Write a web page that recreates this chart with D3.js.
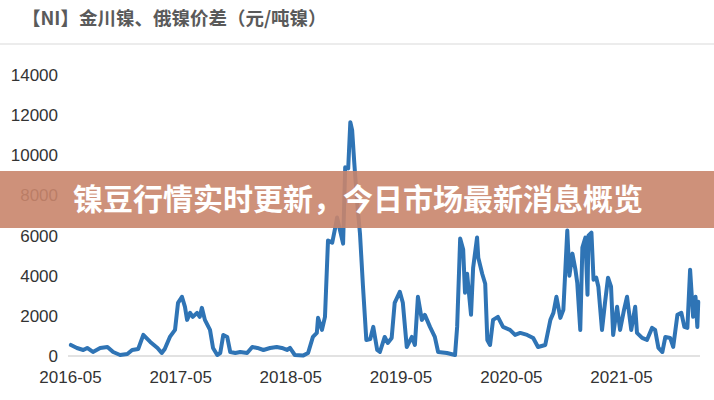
<!DOCTYPE html>
<html>
<head>
<meta charset="utf-8">
<script src="https://cdn.jsdelivr.net/npm/d3@7/dist/d3.min.js"></script>
<style>
  html, body { margin: 0; padding: 0; background: #ffffff; }
  svg { display: block; }
</style>
</head>
<body>
<svg id="chart" width="714" height="400"></svg>
<script>
// ---- data ----
const titleText = "【NI】金川镍、俄镍价差（元/吨镍）";
const bannerText = "镍豆行情实时更新，今日市场最新消息概览";
const yTicks = [0, 2000, 4000, 6000, 8000, 10000, 12000, 14000];
const xTickLabels = ["2016-05", "2017-05", "2018-05", "2019-05", "2020-05", "2021-05"];
const dates = [
  "2016-05-04","2016-05-24","2016-06-14","2016-06-27","2016-07-16","2016-08-09","2016-09-02","2016-09-21",
  "2016-10-14","2016-11-07","2016-11-23","2016-12-13","2016-12-30","2017-01-22","2017-02-15","2017-03-01",
  "2017-03-11","2017-03-28","2017-04-14","2017-04-24","2017-05-07","2017-05-17","2017-05-24","2017-06-03",
  "2017-06-12","2017-06-26","2017-07-05","2017-07-12","2017-07-22","2017-08-08","2017-08-18","2017-09-01",
  "2017-09-11","2017-09-21","2017-10-04","2017-10-14","2017-10-31","2017-11-16","2017-12-09","2017-12-26",
  "2018-01-12","2018-02-01","2018-02-23","2018-03-17","2018-04-03","2018-04-20","2018-04-30","2018-05-16",
  "2018-06-12","2018-06-29","2018-07-15","2018-07-28","2018-08-01","2018-08-14","2018-08-24","2018-09-03",
  "2018-09-17","2018-09-27","2018-10-03","2018-10-13","2018-10-23","2018-10-30","2018-11-09","2018-11-16",
  "2018-11-22","2018-11-29","2018-12-08","2018-12-18","2018-12-28","2019-01-08","2019-01-21","2019-01-31",
  "2019-02-13","2019-02-22","2019-03-10","2019-03-20","2019-04-02","2019-04-12","2019-04-29","2019-05-09",
  "2019-05-22","2019-06-08","2019-06-18","2019-06-28","2019-07-11","2019-07-21","2019-08-07","2019-08-23",
  "2019-09-03","2019-10-02","2019-10-29","2019-11-05","2019-11-15","2019-11-25","2019-12-01","2019-12-08",
  "2019-12-21","2019-12-28","2020-01-10","2020-01-14","2020-01-27","2020-02-06","2020-02-13","2020-02-22",
  "2020-03-03","2020-03-19","2020-04-05","2020-04-28","2020-05-15","2020-06-01","2020-06-24","2020-07-14",
  "2020-07-30","2020-08-23","2020-09-09","2020-09-19","2020-09-29","2020-10-12","2020-10-22","2020-11-04",
  "2020-11-11","2020-11-21","2020-12-01","2020-12-07","2020-12-17","2020-12-24","2021-01-03","2021-01-10",
  "2021-01-13","2021-01-23","2021-01-30","2021-02-08","2021-02-15","2021-02-27","2021-03-09","2021-03-19",
  "2021-03-29","2021-04-05","2021-04-18","2021-04-28","2021-05-11","2021-05-21","2021-06-04","2021-06-17",
  "2021-06-23","2021-07-10","2021-07-26","2021-08-12","2021-08-22","2021-09-02","2021-09-15","2021-09-25",
  "2021-10-11","2021-10-21","2021-11-04","2021-11-17","2021-11-27","2021-12-07","2021-12-16","2021-12-26",
  "2022-01-03","2022-01-09","2022-01-12"
];
const values = [
  550, 400, 300, 400, 200, 400, 450, 200,
  50, 100, 300, 350, 1050, 700, 400, 150,
  350, 950, 1300, 2650, 2950, 2450, 1800, 2150,
  1950, 2150, 1950, 2400, 1800, 1300, 400, 50,
  150, 1050, 950, 200, 150, 200, 150, 450,
  400, 300, 400, 450, 400, 300, 400, 50,
  20, 150, 950, 1150, 1900, 1300, 1950, 5750,
  5650, 6400, 6900, 6250, 5600, 9400, 9350, 11650,
  11250, 9650, 7750, 6100, 3450, 800, 850, 1450,
  300, 200, 950, 650, 900, 2650, 3200, 2650,
  450, 950, 550, 2950, 1800, 2050, 1450, 950,
  200, 150, 50, 1450, 5850, 5300, 3150, 4100,
  2050, 4400, 5900, 4900, 4100, 3600, 800, 550,
  1800, 1950, 1450, 1300, 1050, 1150, 1050, 900,
  450, 550, 1800, 2150, 2950, 1900, 2300, 6250,
  4000, 5100, 4300, 3650, 1300, 5400, 5900, 3050,
  6000, 6150, 3800, 3900, 3450, 1300, 2650, 3900,
  3450, 1050, 2450, 1300, 2300, 2950, 1300, 2450,
  1150, 900, 800, 1400, 1300, 400, 200, 950,
  900, 450, 2050, 2150, 1450, 1400, 4300, 1950,
  2950, 1450, 2700
];

// ---- drawing ----
const svg = d3.select("#chart");
const parse = d3.timeParse("%Y-%m-%d");
const parseMonth = d3.timeParse("%Y-%m");
const data = dates.map((d, i) => ({ date: parse(d), value: values[i] }));

const x = d3.scaleTime()
  .domain([parseMonth("2016-05"), parseMonth("2021-05")])
  .range([70, 621]);
const y = d3.scaleLinear().domain([0, 14000]).range([356, 75]);

// title
svg.append("text")
  .attr("x", 22).attr("y", 25)
  .attr("font-family", "'Noto Sans CJK SC', sans-serif")
  .attr("font-size", 18.5).attr("font-weight", "bold")
  .attr("fill", "#5a5a5a")
  .text(titleText);

svg.append("line")
  .attr("x1", 0).attr("x2", 714).attr("y1", 44).attr("y2", 44)
  .attr("stroke", "#e6e6e6").attr("stroke-width", 1.5);

// baseline grid
svg.append("line")
  .attr("x1", 68).attr("x2", 700).attr("y1", y(0)).attr("y2", y(0))
  .attr("stroke", "#d9d9d9").attr("stroke-width", 1.5);

// y axis
const yAxis = d3.axisLeft(y).tickValues(yTicks).tickSize(0).tickPadding(0).tickFormat(d3.format("d"));
const gy = svg.append("g").attr("transform", "translate(58,0)").call(yAxis);
gy.select(".domain").remove();
gy.selectAll("text")
  .attr("font-family", "'Liberation Sans', Arial, sans-serif")
  .attr("font-size", 17).attr("fill", "#333333");

// x axis
const gx = svg.append("g").attr("transform", "translate(0,368)")
  .call(d3.axisBottom(x)
    .tickValues(xTickLabels.map(parseMonth))
    .tickSize(0).tickPadding(0)
    .tickFormat(d3.timeFormat("%Y-%m")));
gx.select(".domain").remove();
gx.selectAll("text")
  .attr("font-family", "'Liberation Sans', Arial, sans-serif")
  .attr("font-size", 17).attr("fill", "#333333")
  .attr("dy", "0.9em");

// line
const line = d3.line().x(d => x(d.date)).y(d => y(d.value));
svg.append("path").datum(data)
  .attr("d", line)
  .attr("fill", "none")
  .attr("stroke", "#2f74b5")
  .attr("stroke-width", 4)
  .attr("stroke-linejoin", "round")
  .attr("stroke-linecap", "round");

// banner overlay
svg.append("rect")
  .attr("x", 0).attr("y", 171).attr("width", 714).attr("height", 57)
  .attr("fill", "#c9856b").attr("fill-opacity", 0.9);
svg.append("text")
  .attr("x", 73).attr("y", 210)
  .attr("font-family", "'Noto Sans CJK SC', sans-serif")
  .attr("font-size", 30).attr("font-weight", "bold")
  .attr("fill", "#ffffff")
  .text(bannerText);
</script>
</body>
</html>
